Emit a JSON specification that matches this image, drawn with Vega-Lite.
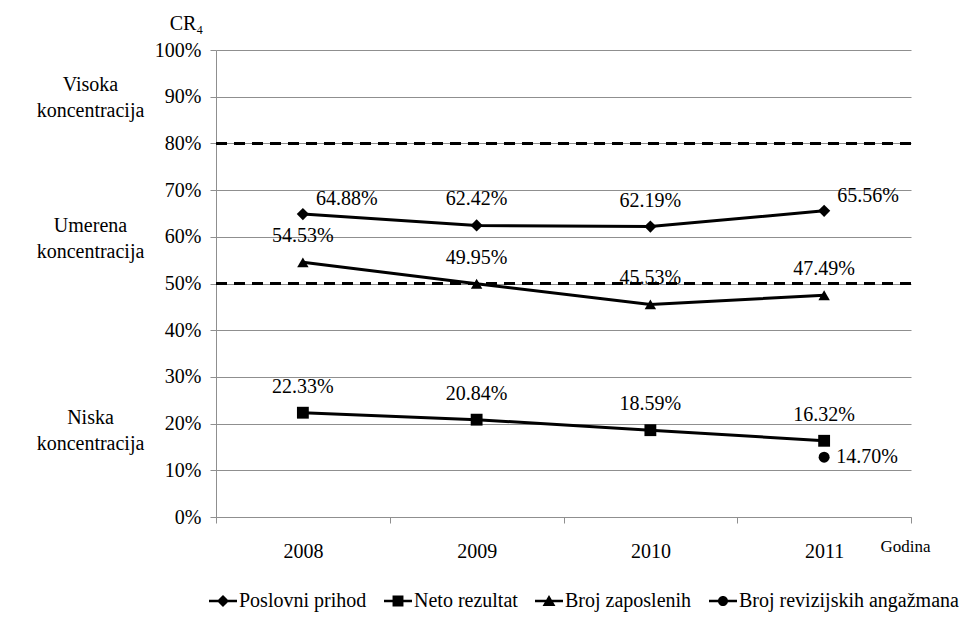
{
  "$schema": "https://vega.github.io/schema/vega-lite/v6.json",
  "width": 695,
  "height": 467,
  "autosize": {"type": "none"},
  "padding": {"left": 216, "top": 50, "right": 50, "bottom": 101},
  "background": "white",
  "config": {
    "font": "Liberation Serif",
    "view": {"stroke": null},
    "axis": {"labelFont": "Liberation Serif", "titleFont": "Liberation Serif", "labelColor": "black", "titleColor": "black", "titleFontWeight": "normal"},
    "text": {"font": "Liberation Serif"}
  },
  "datasets": {
    "main": [
      {"year": "2008", "series": "Poslovni prihod", "value": 64.88, "label": "64.88%"},
      {"year": "2009", "series": "Poslovni prihod", "value": 62.42, "label": "62.42%"},
      {"year": "2010", "series": "Poslovni prihod", "value": 62.19, "label": "62.19%"},
      {"year": "2011", "series": "Poslovni prihod", "value": 65.56, "label": "65.56%"},
      {"year": "2008", "series": "Neto rezultat", "value": 22.33, "label": "22.33%"},
      {"year": "2009", "series": "Neto rezultat", "value": 20.84, "label": "20.84%"},
      {"year": "2010", "series": "Neto rezultat", "value": 18.59, "label": "18.59%"},
      {"year": "2011", "series": "Neto rezultat", "value": 16.32, "label": "16.32%"},
      {"year": "2008", "series": "Broj zaposlenih", "value": 54.53, "label": "54.53%"},
      {"year": "2009", "series": "Broj zaposlenih", "value": 49.95, "label": "49.95%"},
      {"year": "2010", "series": "Broj zaposlenih", "value": 45.53, "label": "45.53%"},
      {"year": "2011", "series": "Broj zaposlenih", "value": 47.49, "label": "47.49%"},
      {"year": "2011", "series": "Broj revizijskih angažmana", "value": 12.8, "label": "14.70%"}
    ]
  },
  "layer": [
    {
      "layer": [
        {
          "data": {"values": [{"value": 80}, {"value": 50}]},
          "mark": {"type": "rule", "color": "black", "strokeWidth": 3, "strokeDash": [11, 7]},
          "encoding": {
            "y": {"field": "value", "type": "quantitative"}
          }
        },
        {
          "data": {"name": "main"},
          "mark": {"type": "line", "color": "black", "strokeWidth": 3},
          "encoding": {
            "x": {
              "field": "year", "type": "ordinal",
              "scale": {"type": "band", "paddingInner": 0, "paddingOuter": 0},
              "axis": {
                "labelAngle": 0, "tickBand": "extent", "grid": false,
                "domainColor": "#8f8f8f", "tickColor": "#8f8f8f", "tickSize": 6,
                "labelFontSize": 20, "labelPadding": 18,
                "title": "Godina", "titleFontSize": 17, "titleX": 689, "titleY": 29,
                "titleAlign": "center", "titleBaseline": "middle"
              }
            },
            "y": {
              "field": "value", "type": "quantitative",
              "scale": {"domain": [0, 100]},
              "axis": {
                "values": [0, 10, 20, 30, 40, 50, 60, 70, 80, 90, 100],
                "labelExpr": "datum.value + '%'",
                "grid": true, "gridColor": "#8f8f8f", "gridWidth": 1,
                "domainColor": "#8f8f8f", "tickColor": "#8f8f8f", "tickSize": 6,
                "labelFontSize": 20, "labelPadding": 9,
                "title": "CR₄", "titleFontSize": 20, "titleAngle": 0,
                "titleX": -30, "titleY": -27, "titleAlign": "center", "titleBaseline": "middle"
              }
            },
            "detail": {"field": "series"}
          }
        },
        {
          "data": {"name": "main"},
          "mark": {"type": "point", "filled": true, "color": "black", "opacity": 1},
          "encoding": {
            "x": {"field": "year", "type": "ordinal"},
            "y": {"field": "value", "type": "quantitative"},
            "shape": {
              "field": "series", "type": "nominal",
              "scale": {"domain": ["Poslovni prihod", "Neto rezultat", "Broj zaposlenih", "Broj revizijskih angažmana"], "range": ["diamond", "square", "triangle-up", "circle"]},
              "legend": null
            },
            "size": {
              "field": "series", "type": "nominal",
              "scale": {"domain": ["Poslovni prihod", "Neto rezultat", "Broj zaposlenih", "Broj revizijskih angažmana"], "range": [150, 121, 170, 100]},
              "legend": null
            }
          }
        },
        {
          "data": {"name": "main"},
          "transform": [{"filter": "datum.series != 'Broj revizijskih angažmana' && !(datum.series == 'Poslovni prihod' && (datum.year == '2008' || datum.year == '2011'))"}],
          "mark": {"type": "text", "fontSize": 20, "color": "black", "align": "center", "baseline": "middle", "dy": -26},
          "encoding": {
            "x": {"field": "year", "type": "ordinal"},
            "y": {"field": "value", "type": "quantitative"},
            "text": {"field": "label"}
          }
        },
        {
          "data": {"name": "main"},
          "transform": [{"filter": "datum.series == 'Poslovni prihod' && (datum.year == '2008' || datum.year == '2011')"}],
          "mark": {"type": "text", "fontSize": 20, "color": "black", "align": "left", "baseline": "middle", "dx": 13, "dy": -15},
          "encoding": {
            "x": {"field": "year", "type": "ordinal"},
            "y": {"field": "value", "type": "quantitative"},
            "text": {"field": "label"}
          }
        },
        {
          "data": {"name": "main"},
          "transform": [{"filter": "datum.series == 'Broj revizijskih angažmana'"}],
          "mark": {"type": "text", "fontSize": 20, "color": "black", "align": "left", "baseline": "middle", "dx": 12, "dy": 0},
          "encoding": {
            "x": {"field": "year", "type": "ordinal"},
            "y": {"field": "value", "type": "quantitative"},
            "text": {"field": "label"}
          }
        }
      ]
    },
    {
      "data": {"name": "main"},
      "mark": {"type": "point", "filled": true, "opacity": 0, "color": "black"},
      "encoding": {
        "x": {"field": "year", "type": "ordinal"},
        "y": {"field": "value", "type": "quantitative", "scale": {"domain": [0, 100]}, "axis": null},
        "shape": {
          "field": "series", "type": "nominal",
          "scale": {
            "domain": ["Poslovni prihod", "Neto rezultat", "Broj zaposlenih", "Broj revizijskih angažmana"],
            "range": [
              "M-1,-0.09H1V0.09H-1ZM-0.43,0L0,-0.43L0.43,0L0,0.43Z",
              "M-1,-0.09H1V0.09H-1ZM-0.39,-0.39H0.39V0.39H-0.39Z",
              "M-1,-0.09H1V0.09H-1ZM-0.46,0.36L0,-0.43L0.46,0.36Z",
              "M-1,-0.09H1V0.09H-1ZM-0.36,0A0.36,0.36,0,1,1,0.36,0A0.36,0.36,0,1,1,-0.36,0Z"
            ]
          },
          "legend": {
            "title": null, "orient": "none", "direction": "horizontal",
            "legendX": -7, "legendY": 537, "padding": 0,
            "labelFont": "Liberation Serif", "labelFontSize": 20, "labelColor": "black", "labelOffset": 2,
            "symbolSize": 784, "symbolStrokeWidth": 0, "symbolFillColor": "black", "symbolStrokeColor": "black", "symbolOpacity": 1,
            "columnPadding": 17, "labelLimit": 400,
            "encode": {"symbols": {"update": {"opacity": {"value": 1}, "fill": {"value": "black"}, "fillOpacity": {"value": 1}}}}
          }
        }
      }
    },
    {
      "data": {"values": [{"k": 92.6}, {"k": 62.4}, {"k": 21.3}]},
      "mark": {"type": "rule", "opacity": 0},
      "encoding": {
        "y": {
          "field": "k", "type": "quantitative",
          "scale": {"domain": [0, 100]},
          "axis": {
            "orient": "left", "values": [92.6, 62.4, 21.3],
            "labelExpr": "datum.value > 80 ? ['Visoka', 'koncentracija'] : (datum.value > 40 ? ['Umerena', 'koncentracija'] : ['Niska', 'koncentracija'])",
            "domain": false, "ticks": false, "tickSize": 0, "grid": false, "title": null,
            "labelAlign": "center", "labelBaseline": "middle", "labelPadding": 126, "labelLineHeight": 26,
            "labelFontSize": 20, "labelOverlap": false, "labelFlush": false
          }
        }
      }
    }
  ],
  "resolve": {"scale": {"y": "independent", "shape": "independent"}}
}
